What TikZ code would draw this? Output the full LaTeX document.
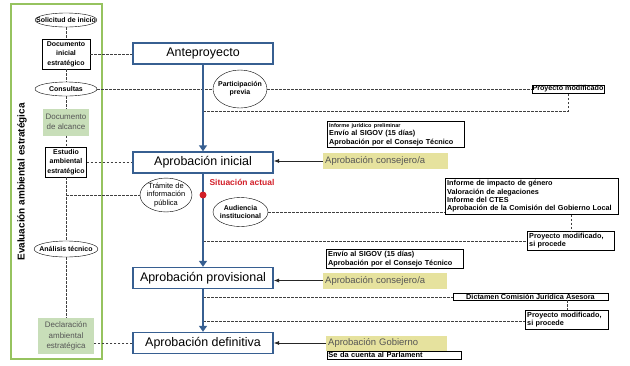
\documentclass[tikz,border=0pt]{standalone}
\usepackage{fontspec}
\setmainfont{Liberation Sans}
\usetikzlibrary{positioning,shapes.geometric,arrows.meta}
\definecolor{azul}{RGB}{55,95,145}
\definecolor{verdemarco}{RGB}{150,195,95}
\definecolor{verdeclaro}{RGB}{200,222,185}
\definecolor{amarillo}{RGB}{230,226,158}
\definecolor{rojo}{RGB}{210,30,40}
\definecolor{gris}{RGB}{85,85,85}
\newcommand{\tam}[2]{\fontsize{#1}{#2}\selectfont}

\begin{document}
\begin{tikzpicture}[x=1bp, y=-1bp,
  every node/.style = {align=center, inner sep=1bp},
  fase/.style = {draw=azul, line width=1.4bp, minimum width=140bp,
    minimum height=21bp, font=\tam{12.5}{14}},
  elipse/.style = {ellipse, draw, thin, inner sep=0pt, font=\bfseries\tam{7}{8}},
  caja/.style = {draw, thin, font=\bfseries\tam{7}{9.5}},
  nota/.style = {draw, thin, inner sep=2bp, align=left, anchor=north west,
    font=\bfseries\tam{7.3}{8.5}},
  verde/.style = {fill=verdeclaro, text=gris, font=\tam{8}{10.5}},
  fondoamarillo/.style = {fill=amarillo, text=gris, anchor=west, align=left,
    minimum height=16bp, inner sep=2bp, font=\tam{9.5}{11}},
  traza/.style = {draw=black!75, thin, dash pattern=on 2.5bp off 1.5bp},
  flujo/.style = {draw=azul, line width=1.4bp, -{Triangle[width=8bp,length=6bp]}},
  flecha/.style = {draw=black!85, line width=0.7bp, -{Latex[scale=0.9]}}
  ]
  \useasboundingbox (0,0) rectangle (630,365);

  % columna de evaluacion ambiental
  \draw[verdemarco, line width=1.5bp] (11,4) rectangle (102,359);
  \node[rotate=90, font=\bfseries\tam{10}{12}] (eae) at (22,182) {Evaluación ambiental estratégica};
  \node[elipse, minimum width=61bp, minimum height=14bp, inner xsep=-8bp] (sol) at (66,20) {Solicitud de inicio};
  \node[caja, minimum width=48bp, minimum height=30bp] (docini) at (66,54) {Documento\\inicial\\estratégico};
  \node[elipse, minimum width=62bp, minimum height=14bp] (cons) at (66,89) {Consultas};
  \node[verde, minimum width=46bp, minimum height=27bp] (alc) at (66,122) {Documento\\de alcance};
  \node[caja, minimum width=41bp, minimum height=30bp] (est) at (66,162) {Estudio\\ambiental\\estratégico};
  \node[elipse, minimum width=62bp, minimum height=16bp, inner xsep=-4bp] (ana) at (66,249) {Análisis técnico};
  \node[verde, minimum width=56bp, minimum height=36bp] (decl) at (66,336) {Declaración\\ambiental\\estratégica};

  % tramitacion
  \node[fase] (ante) at (203,53.5) {Anteproyecto};
  \node[fase] (ini) at (203,162.5) {Aprobación inicial};
  \node[fase] (prov) at (203,278) {Aprobación provisional};
  \node[fase] (def) at (203,343) {Aprobación definitiva};

  \node[elipse, minimum width=54bp, minimum height=38bp, inner xsep=-4bp] (part) at (240,89) {Participación\\previa};
  \node[caja, font=\bfseries\tam{7.2}{8}, inner sep=0.8bp] (pmod) at (568,89) {Proyecto modificado};
  \node[nota, text width=133bp] (infoini) at (327,121) {{\tam{5.5}{6.5}Informe jurídico preliminar}\\Envío al SIGOV (15 días)\\Aprobación por el Consejo Técnico};
  \node[fondoamarillo, text width=121bp] (yini) at (323,161) {Aprobación consejero/a};
  \node[elipse, font=\tam{7.5}{8.5}, minimum width=52bp, minimum height=32bp, inner xsep=-2bp] (tram) at (166,195) {Trámite de\\información\\pública};
  \node[elipse, minimum width=55bp, minimum height=29bp, inner xsep=-3bp] (aud) at (240.5,212) {Audiencia\\institucional};
  \node[font=\bfseries\tam{8.5}{10}, text=rojo] (sit) at (242,182) {Situación actual};
  \node[nota, text width=169bp] (infoloc) at (445,178) {Informe de impacto de género\\Valoración de alegaciones\\Informe del CTES\\Aprobación de la Comisión del Gobierno Local};
  \node[nota, text width=83bp] (pms1) at (527,231) {Proyecto modificado,\\si procede};
  \node[nota, text width=133bp] (infoprov) at (326,249) {Envío al SIGOV (15 días)\\Aprobación por el Consejo Técnico};
  \node[fondoamarillo, text width=120bp] (yprov) at (323,280.5) {Aprobación consejero/a};
  \node[caja, font=\bfseries\tam{7.3}{8}, inner sep=0.6bp, minimum width=155bp] (dict) at (530.5,296.5) {Dictamen Comisión Jurídica Asesora};
  \node[nota, text width=79bp] (pms2) at (525,310) {Proyecto modificado,\\si procede};
  \node[fondoamarillo, text width=117bp, minimum height=15bp] (ygob) at (326,343) {Aprobación Gobierno};
  \node[nota, text width=132bp, inner sep=1.2bp, font=\bfseries\tam{7.5}{8.5}] (parl) at (327,351) {Se da cuenta al Parlament};

  % lineas discontinuas
  \draw[traza] (sol) -- (docini);
  \draw[traza] (docini) -- (cons);
  \draw[traza] (cons) -- (alc);
  \draw[traza] (alc) -- (est);
  \draw[traza] (est) -- (ana);
  \draw[traza] (ana) -- (decl);
  \coordinate (bif) at (66,195);
  \draw[traza] (bif) -- (tram);
  \draw[traza] (docini) -- (docini -| ante.west);
  \draw[traza] (cons) -- (part);
  \draw[traza] (part) -- (part -| pmod.west);
  \draw[traza] (est) -- (est -| ini.west);
  \draw[traza] (def.west) -- (def.west -| decl.east);

  \coordinate (r1) at (203,111);
  \coordinate (r2) at (203,241);
  \coordinate (r3) at (203,297);
  \coordinate (r4) at (203,321);
  \draw[traza] (r1) -- (r1 -| pmod) -- (pmod);
  \draw[traza] (aud) -- (aud -| infoloc.west);
  \draw[traza] (infoloc.south -| pms1) -- (pms1);
  \draw[traza] (r2) -- (r2 -| pms1.west);
  \draw[traza] (r3) -- (r3 -| dict.west);
  \draw[traza] (dict.south -| pms2) -- (pms2);
  \draw[traza] (r4) -- (r4 -| pms2.west);

  % flujo principal
  \draw[flujo] (ante) -- (ini);
  \draw[flujo] (ini) -- (prov);
  \draw[flujo] (prov) -- (def);
  \node[circle, fill=rojo, minimum size=7bp, inner sep=0pt] (actual) at (203,195) {};

  \draw[flecha] (yini.west) -- (ini.east |- yini.west);
  \draw[flecha] (yprov.west) -- (prov.east |- yprov.west);
  \draw[flecha] (ygob.west) -- (def.east |- ygob.west);
\end{tikzpicture}
\end{document}
